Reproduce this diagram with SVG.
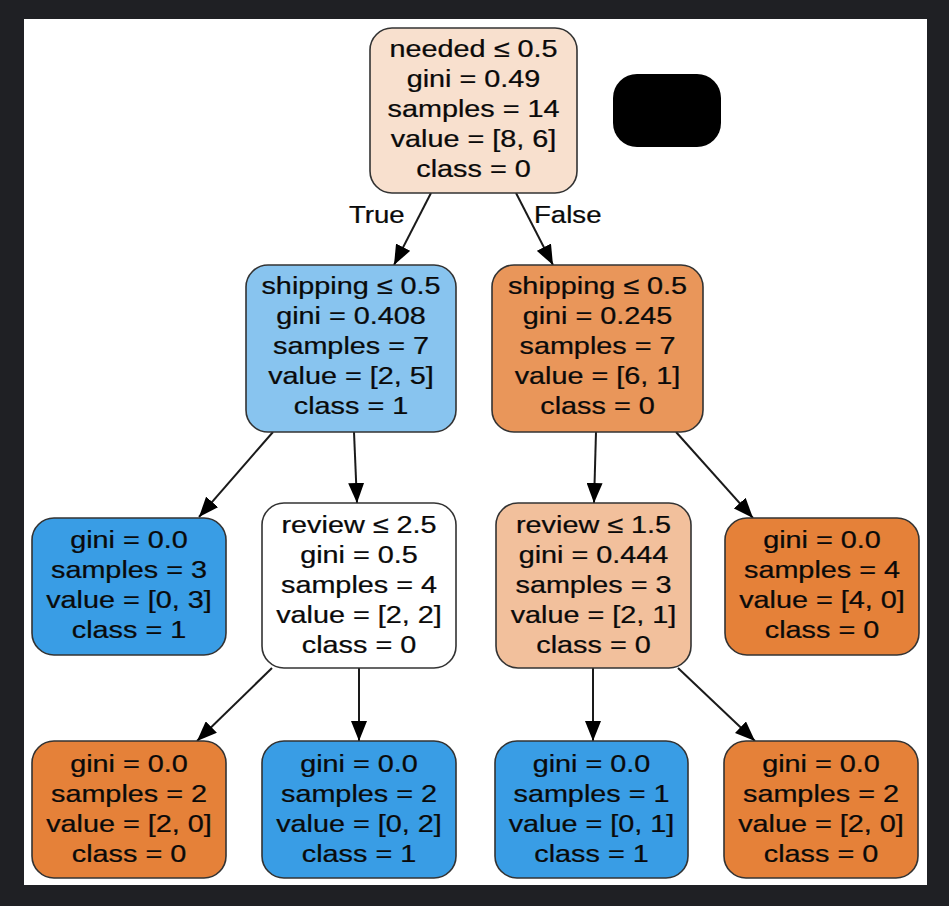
<svg xmlns="http://www.w3.org/2000/svg" width="949" height="906" viewBox="0 0 949 906">
<defs>
<style>
.bg{fill:#1f2024}
.page{fill:#ffffff}
.node{stroke:#333333;stroke-width:1.6}
.t{font-family:"Liberation Sans",Arial,Helvetica,sans-serif;font-size:24px;fill:#0a0a0a;text-anchor:middle;stroke:#0a0a0a;stroke-width:0.25}
.e{stroke:#1a1a1a;stroke-width:2;fill:none;marker-end:url(#arr)}
.lbl{font-family:"Liberation Sans",Arial,Helvetica,sans-serif;font-size:24px;fill:#0a0a0a;stroke:#0a0a0a;stroke-width:0.25}
</style>
<marker id="arr" viewBox="0 0 20 16" refX="20" refY="8" markerWidth="20" markerHeight="16" markerUnits="userSpaceOnUse" orient="auto">
<path d="M0,0 L20,8 L0,16 z" fill="#000000"/>
</marker>
</defs>
<rect class="bg" x="0" y="0" width="949" height="906"/>
<rect class="page" x="24" y="19" width="903" height="866"/>

<g id="connectors">
<line class="e" x1="431" y1="193" x2="394" y2="265"/>
<line class="e" x1="516" y1="193" x2="553" y2="265"/>
<line class="e" x1="273" y1="432" x2="199" y2="517"/>
<line class="e" x1="354" y1="432" x2="357" y2="503"/>
<line class="e" x1="596" y1="432" x2="594" y2="503"/>
<line class="e" x1="676" y1="432" x2="753" y2="518"/>
<line class="e" x1="272" y1="668" x2="197" y2="741"/>
<line class="e" x1="359" y1="668" x2="359" y2="741"/>
<line class="e" x1="593" y1="668" x2="593" y2="741"/>
<line class="e" x1="678" y1="668" x2="755" y2="741"/>
<text class="lbl" x="349" y="223" transform="translate(349,0) scale(1.15,1) translate(-349,0)">True</text>
<text class="lbl" x="534" y="223" transform="translate(534,0) scale(1.15,1) translate(-534,0)">False</text>
</g>

<g id="mask">
<rect x="613" y="74" width="108" height="73" rx="24" fill="#000000"/>
</g>

<g id="n0">
<rect class="node" x="370" y="28" width="207" height="165" rx="22" fill="#f8e0ce"/>
<text class="t" transform="translate(473.5,0) scale(1.2,1)"><tspan x="0" y="57">needed ≤ 0.5</tspan><tspan x="0" y="87">gini = 0.49</tspan><tspan x="0" y="117">samples = 14</tspan><tspan x="0" y="147">value = [8, 6]</tspan><tspan x="0" y="177">class = 0</tspan></text>
</g>

<g id="n1">
<rect class="node" x="246" y="265" width="210" height="167" rx="22" fill="#88c4ef"/>
<text class="t" transform="translate(351,0) scale(1.2,1)"><tspan x="0" y="294">shipping ≤ 0.5</tspan><tspan x="0" y="324">gini = 0.408</tspan><tspan x="0" y="354">samples = 7</tspan><tspan x="0" y="384">value = [2, 5]</tspan><tspan x="0" y="414">class = 1</tspan></text>
</g>

<g id="n2">
<rect class="node" x="492" y="265" width="211" height="167" rx="22" fill="#e9965a"/>
<text class="t" transform="translate(597.5,0) scale(1.2,1)"><tspan x="0" y="294">shipping ≤ 0.5</tspan><tspan x="0" y="324">gini = 0.245</tspan><tspan x="0" y="354">samples = 7</tspan><tspan x="0" y="384">value = [6, 1]</tspan><tspan x="0" y="414">class = 0</tspan></text>
</g>

<g id="n3">
<rect class="node" x="32" y="518" width="194" height="137" rx="22" fill="#399de5"/>
<text class="t" transform="translate(129,0) scale(1.2,1)"><tspan x="0" y="548">gini = 0.0</tspan><tspan x="0" y="578">samples = 3</tspan><tspan x="0" y="608">value = [0, 3]</tspan><tspan x="0" y="638">class = 1</tspan></text>
</g>

<g id="n4">
<rect class="node" x="262" y="503" width="194" height="165" rx="22" fill="#ffffff"/>
<text class="t" transform="translate(359,0) scale(1.2,1)"><tspan x="0" y="533">review ≤ 2.5</tspan><tspan x="0" y="563">gini = 0.5</tspan><tspan x="0" y="593">samples = 4</tspan><tspan x="0" y="623">value = [2, 2]</tspan><tspan x="0" y="653">class = 0</tspan></text>
</g>

<g id="n5">
<rect class="node" x="496" y="503" width="195" height="165" rx="22" fill="#f2c09c"/>
<text class="t" transform="translate(593.5,0) scale(1.2,1)"><tspan x="0" y="533">review ≤ 1.5</tspan><tspan x="0" y="563">gini = 0.444</tspan><tspan x="0" y="593">samples = 3</tspan><tspan x="0" y="623">value = [2, 1]</tspan><tspan x="0" y="653">class = 0</tspan></text>
</g>

<g id="n6">
<rect class="node" x="725" y="518" width="194" height="137" rx="22" fill="#e58139"/>
<text class="t" transform="translate(822,0) scale(1.2,1)"><tspan x="0" y="548">gini = 0.0</tspan><tspan x="0" y="578">samples = 4</tspan><tspan x="0" y="608">value = [4, 0]</tspan><tspan x="0" y="638">class = 0</tspan></text>
</g>

<g id="n7">
<rect class="node" x="32" y="741" width="194" height="137" rx="22" fill="#e58139"/>
<text class="t" transform="translate(129,0) scale(1.2,1)"><tspan x="0" y="772">gini = 0.0</tspan><tspan x="0" y="802">samples = 2</tspan><tspan x="0" y="832">value = [2, 0]</tspan><tspan x="0" y="862">class = 0</tspan></text>
</g>

<g id="n8">
<rect class="node" x="262" y="741" width="194" height="137" rx="22" fill="#399de5"/>
<text class="t" transform="translate(359,0) scale(1.2,1)"><tspan x="0" y="772">gini = 0.0</tspan><tspan x="0" y="802">samples = 2</tspan><tspan x="0" y="832">value = [0, 2]</tspan><tspan x="0" y="862">class = 1</tspan></text>
</g>

<g id="n9">
<rect class="node" x="495" y="741" width="193" height="137" rx="22" fill="#399de5"/>
<text class="t" transform="translate(591.5,0) scale(1.2,1)"><tspan x="0" y="772">gini = 0.0</tspan><tspan x="0" y="802">samples = 1</tspan><tspan x="0" y="832">value = [0, 1]</tspan><tspan x="0" y="862">class = 1</tspan></text>
</g>

<g id="n10">
<rect class="node" x="724" y="741" width="194" height="137" rx="22" fill="#e58139"/>
<text class="t" transform="translate(821,0) scale(1.2,1)"><tspan x="0" y="772">gini = 0.0</tspan><tspan x="0" y="802">samples = 2</tspan><tspan x="0" y="832">value = [2, 0]</tspan><tspan x="0" y="862">class = 0</tspan></text>
</g>
</svg>
